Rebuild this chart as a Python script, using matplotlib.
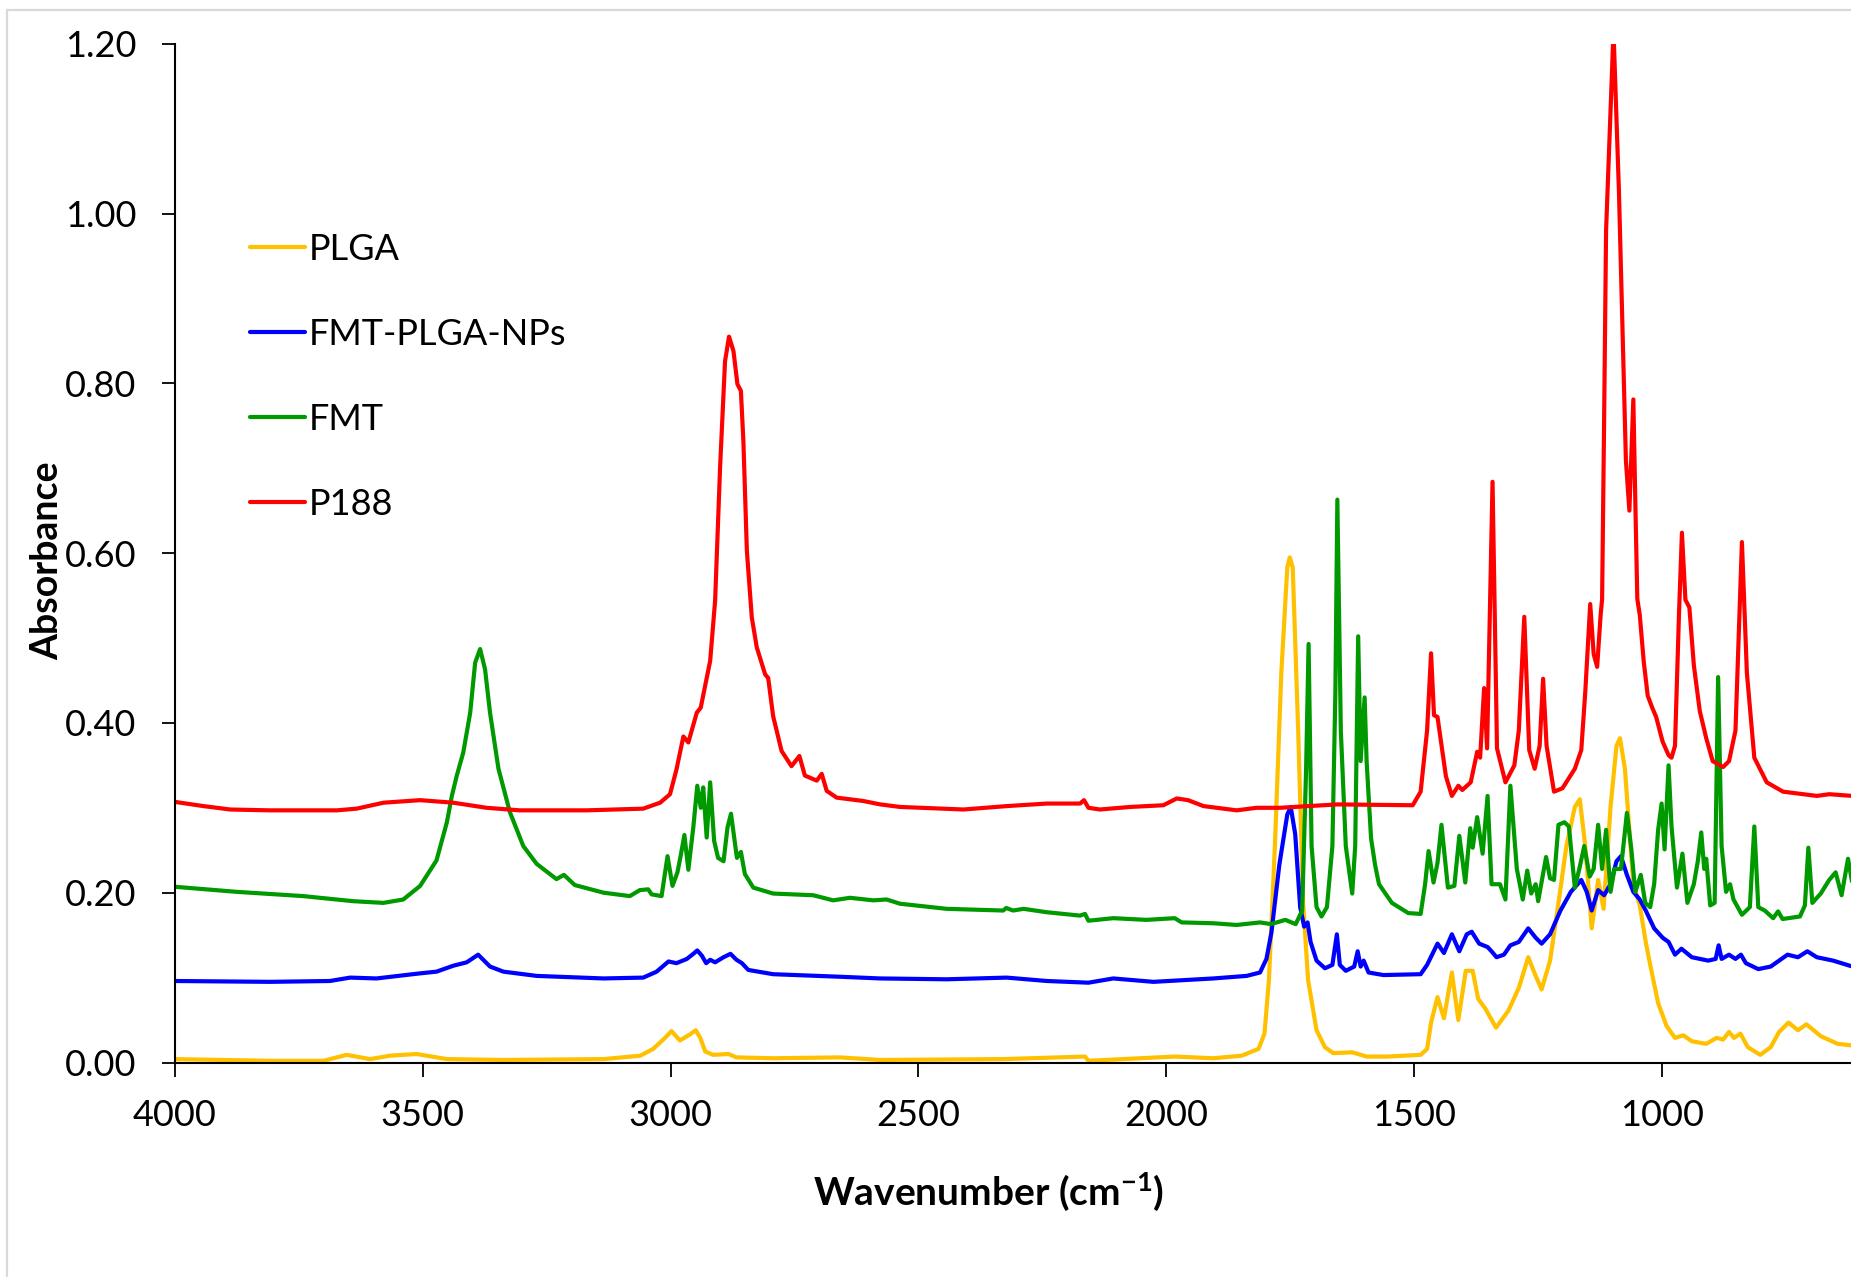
import matplotlib
matplotlib.use("Agg")
import matplotlib.pyplot as plt
from matplotlib.patches import Rectangle

plt.rcParams['font.family'] = ['Lato', 'DejaVu Sans']
plt.rcParams['mathtext.fontset'] = 'custom'
plt.rcParams['mathtext.rm'] = 'Lato:bold'
plt.rcParams['mathtext.it'] = 'Lato:bold'
plt.rcParams['mathtext.bf'] = 'Lato:bold'

# ---- FTIR spectra (wavenumber in cm-1, absorbance) ----
wn_plga = [4000, 3808, 3700, 3653, 3606, 3566, 3512, 3451, 3337, 3135, 3061, 3035, 3011, 2998,
           2981, 2961, 2949, 2940, 2930, 2914, 2883, 2867, 2793, 2658, 2577, 2329, 2164, 2157,
           1983, 1905, 1848, 1814, 1802, 1793, 1781, 1768, 1756, 1751, 1745, 1734, 1724, 1714,
           1697, 1680, 1663, 1625, 1596, 1554, 1487, 1474, 1466, 1453, 1440, 1424, 1411, 1396,
           1382, 1371, 1356, 1335, 1310, 1289, 1270, 1255, 1243, 1226, 1209, 1193, 1176, 1166,
           1155, 1142, 1129, 1118, 1104, 1092, 1085, 1075, 1058, 1045, 1033, 1024, 1008, 991,
           974, 957, 940, 911, 890, 877, 865, 855, 842, 827, 802, 781, 764, 745, 726, 709, 680,
           646, 616]
abs_plga = [0.004, 0.002, 0.002, 0.009, 0.004, 0.008, 0.010, 0.004, 0.003, 0.004, 0.008, 0.016,
            0.029, 0.037, 0.026, 0.033, 0.038, 0.029, 0.013, 0.009, 0.010, 0.006, 0.005, 0.006,
            0.003, 0.004, 0.007, 0.002, 0.007, 0.005, 0.008, 0.016, 0.034, 0.097, 0.255, 0.459,
            0.583, 0.595, 0.583, 0.391, 0.188, 0.097, 0.038, 0.018, 0.011, 0.012, 0.007, 0.007,
            0.009, 0.016, 0.047, 0.077, 0.052, 0.106, 0.050, 0.108, 0.108, 0.075, 0.063, 0.041,
            0.061, 0.088, 0.124, 0.102, 0.086, 0.120, 0.188, 0.255, 0.301, 0.310, 0.255, 0.158,
            0.215, 0.181, 0.301, 0.373, 0.382, 0.346, 0.210, 0.185, 0.142, 0.115, 0.070, 0.043,
            0.029, 0.032, 0.025, 0.022, 0.029, 0.027, 0.036, 0.029, 0.034, 0.018, 0.009, 0.018,
            0.036, 0.047, 0.038, 0.045, 0.031, 0.022, 0.020]

wn_nps = [4000, 3808, 3687, 3646, 3593, 3505, 3472, 3438, 3411, 3388, 3364, 3337, 3270, 3135,
          3055, 3028, 3004, 2988, 2967, 2954, 2946, 2937, 2928, 2920, 2910, 2893, 2879, 2867,
          2856, 2843, 2793, 2658, 2577, 2443, 2322, 2241, 2157, 2107, 2026, 1905, 1838, 1811,
          1798, 1788, 1772, 1756, 1749, 1740, 1730, 1722, 1715, 1709, 1697, 1680, 1665, 1656,
          1650, 1638, 1621, 1614, 1608, 1602, 1592, 1562, 1487, 1474, 1453, 1440, 1424, 1409,
          1394, 1384, 1369, 1352, 1344, 1334, 1319, 1306, 1289, 1270, 1255, 1243, 1226, 1205,
          1184, 1163, 1152, 1142, 1129, 1117, 1104, 1092, 1083, 1071, 1058, 1045, 1033, 1016,
          999, 987, 974, 961, 940, 907, 892, 886, 880, 865, 852, 841, 831, 806, 781, 747, 726,
          707, 688, 655, 616]
abs_nps = [0.096, 0.095, 0.096, 0.100, 0.099, 0.105, 0.107, 0.114, 0.118, 0.127, 0.113, 0.107,
           0.102, 0.099, 0.100, 0.107, 0.119, 0.117, 0.122, 0.128, 0.132, 0.126, 0.117, 0.121,
           0.118, 0.124, 0.128, 0.121, 0.117, 0.109, 0.104, 0.101, 0.099, 0.098, 0.100, 0.096,
           0.094, 0.099, 0.095, 0.099, 0.102, 0.106, 0.122, 0.153, 0.233, 0.292, 0.301, 0.269,
           0.183, 0.160, 0.165, 0.142, 0.120, 0.111, 0.115, 0.151, 0.115, 0.108, 0.113, 0.131,
           0.113, 0.120, 0.106, 0.103, 0.104, 0.115, 0.140, 0.129, 0.151, 0.131, 0.151, 0.154,
           0.140, 0.136, 0.131, 0.124, 0.127, 0.138, 0.142, 0.158, 0.147, 0.140, 0.151, 0.179,
           0.201, 0.215, 0.201, 0.179, 0.203, 0.197, 0.210, 0.237, 0.243, 0.221, 0.201, 0.192,
           0.179, 0.158, 0.147, 0.142, 0.127, 0.134, 0.124, 0.120, 0.122, 0.138, 0.122, 0.127,
           0.122, 0.127, 0.117, 0.110, 0.113, 0.127, 0.124, 0.131, 0.124, 0.120, 0.113]

wn_fmt = [4000, 3875, 3741, 3640, 3579, 3539, 3505, 3472, 3451, 3441, 3431, 3418, 3404, 3394,
          3384, 3374, 3364, 3347, 3324, 3297, 3270, 3230, 3215, 3193, 3135, 3082, 3062, 3045,
          3038, 3018, 3006, 2996, 2986, 2979, 2972, 2964, 2954, 2946, 2939, 2934, 2927, 2920,
          2912, 2904, 2893, 2885, 2878, 2866, 2858, 2850, 2833, 2793, 2752, 2712, 2672, 2638,
          2591, 2564, 2537, 2443, 2329, 2323, 2309, 2288, 2241, 2174, 2164, 2157, 2107, 2040,
          1983, 1969, 1905, 1858, 1811, 1789, 1760, 1739, 1726, 1718, 1713, 1707, 1697, 1687,
          1676, 1665, 1659, 1655, 1648, 1638, 1625, 1619, 1613, 1608, 1600, 1596, 1587, 1579,
          1571, 1545, 1512, 1487, 1478, 1471, 1461, 1453, 1445, 1432, 1419, 1409, 1397, 1387,
          1382, 1373, 1362, 1352, 1344, 1327, 1316, 1306, 1293, 1281, 1272, 1264, 1255, 1250,
          1234, 1226, 1218, 1209, 1197, 1188, 1176, 1167, 1157, 1146, 1138, 1129, 1121, 1113,
          1104, 1096, 1083, 1071, 1062, 1054, 1043, 1034, 1024, 1016, 1008, 1001, 995, 987,
          981, 970, 959, 949, 936, 928, 921, 915, 911, 903, 894, 887, 880, 871, 863, 856, 839,
          823, 814, 806, 793, 776, 766, 757, 722, 712, 705, 697, 680, 663, 650, 638, 625, 616]
abs_fmt = [0.207, 0.201, 0.196, 0.190, 0.188, 0.192, 0.208, 0.238, 0.283, 0.314, 0.338, 0.365,
           0.412, 0.471, 0.487, 0.463, 0.412, 0.346, 0.295, 0.255, 0.234, 0.216, 0.221, 0.209,
           0.200, 0.196, 0.203, 0.204, 0.198, 0.196, 0.243, 0.208, 0.224, 0.245, 0.268, 0.227,
           0.277, 0.326, 0.300, 0.324, 0.265, 0.330, 0.261, 0.241, 0.237, 0.277, 0.293, 0.241,
           0.248, 0.222, 0.206, 0.199, 0.198, 0.197, 0.191, 0.194, 0.191, 0.192, 0.187, 0.181,
           0.179, 0.182, 0.179, 0.181, 0.177, 0.173, 0.175, 0.167, 0.170, 0.168, 0.170, 0.165,
           0.164, 0.162, 0.165, 0.163, 0.168, 0.163, 0.179, 0.346, 0.493, 0.255, 0.183, 0.172,
           0.183, 0.255, 0.436, 0.663, 0.391, 0.255, 0.199, 0.255, 0.502, 0.355, 0.430, 0.355,
           0.264, 0.233, 0.210, 0.188, 0.176, 0.175, 0.210, 0.249, 0.212, 0.235, 0.280, 0.206,
           0.208, 0.267, 0.212, 0.276, 0.253, 0.289, 0.246, 0.314, 0.210, 0.210, 0.192, 0.326,
           0.228, 0.192, 0.226, 0.199, 0.210, 0.190, 0.242, 0.217, 0.215, 0.280, 0.283, 0.278,
           0.206, 0.228, 0.255, 0.219, 0.228, 0.280, 0.228, 0.274, 0.201, 0.228, 0.228, 0.294,
           0.251, 0.201, 0.221, 0.188, 0.183, 0.210, 0.274, 0.305, 0.251, 0.350, 0.278, 0.206,
           0.246, 0.188, 0.210, 0.237, 0.271, 0.228, 0.240, 0.185, 0.188, 0.454, 0.255, 0.201,
           0.210, 0.192, 0.174, 0.183, 0.278, 0.183, 0.179, 0.170, 0.178, 0.169, 0.172, 0.185,
           0.253, 0.188, 0.199, 0.215, 0.224, 0.197, 0.240, 0.210]

wn_p188 = [4000, 3942, 3888, 3808, 3673, 3633, 3579, 3505, 3438, 3371, 3304, 3169, 3055, 3021,
           3001, 2988, 2974, 2964, 2947, 2939, 2920, 2910, 2900, 2890, 2882, 2873, 2865, 2858,
           2853, 2846, 2836, 2826, 2809, 2803, 2793, 2776, 2756, 2740, 2729, 2705, 2695, 2685,
           2665, 2611, 2577, 2537, 2409, 2322, 2241, 2174, 2166, 2157, 2134, 2073, 2006, 1979,
           1956, 1925, 1858, 1818, 1771, 1655, 1503, 1487, 1474, 1466, 1460, 1453, 1436, 1424,
           1411, 1403, 1386, 1373, 1367, 1359, 1353, 1342, 1333, 1316, 1298, 1289, 1278, 1268,
           1257, 1247, 1240, 1233, 1218, 1201, 1176, 1163, 1155, 1145, 1138, 1131, 1124, 1121,
           1117, 1113, 1098, 1087, 1079, 1073, 1066, 1058, 1054, 1050, 1045, 1037, 1029, 1020,
           1012, 999, 987, 981, 974, 966, 960, 953, 945, 936, 924, 911, 898, 877, 865, 852,
           839, 829, 814, 789, 756, 688, 663, 616]
abs_p188 = [0.307, 0.302, 0.298, 0.297, 0.297, 0.299, 0.306, 0.309, 0.306, 0.300, 0.297, 0.297,
            0.299, 0.306, 0.316, 0.345, 0.384, 0.377, 0.412, 0.418, 0.473, 0.544, 0.701, 0.826,
            0.855, 0.838, 0.799, 0.791, 0.732, 0.603, 0.524, 0.489, 0.457, 0.453, 0.408, 0.367,
            0.349, 0.361, 0.338, 0.332, 0.340, 0.320, 0.312, 0.308, 0.304, 0.301, 0.298, 0.302,
            0.305, 0.305, 0.309, 0.300, 0.298, 0.301, 0.303, 0.311, 0.309, 0.302, 0.297, 0.300,
            0.300, 0.304, 0.303, 0.319, 0.391, 0.482, 0.409, 0.407, 0.337, 0.314, 0.326, 0.321,
            0.330, 0.366, 0.359, 0.441, 0.370, 0.684, 0.370, 0.330, 0.350, 0.391, 0.525, 0.368,
            0.346, 0.373, 0.452, 0.373, 0.319, 0.323, 0.346, 0.368, 0.436, 0.540, 0.481, 0.466,
            0.527, 0.546, 0.754, 0.980, 1.215, 1.025, 0.844, 0.709, 0.650, 0.781, 0.660, 0.546,
            0.527, 0.472, 0.432, 0.418, 0.407, 0.378, 0.362, 0.359, 0.373, 0.527, 0.624, 0.545,
            0.536, 0.468, 0.414, 0.382, 0.355, 0.348, 0.355, 0.391, 0.613, 0.459, 0.359, 0.330,
            0.319, 0.314, 0.316, 0.314]

series_names = ['PLGA', 'FMT-PLGA-NPs', 'FMT', 'P188']
series_colors = ['#FFC000', '#0000FF', '#009900', '#FF0000']

y_ticks = [0.0, 0.2, 0.4, 0.6, 0.8, 1.0, 1.2]
x_ticks = [4000, 3500, 3000, 2500, 2000, 1500, 1000]

W, H = 1851, 1277
fig = plt.figure(figsize=(W / 100, H / 100), dpi=100)

# light chart-area border
fig.patches.append(Rectangle((7 / W, -0.05), 1.2, 1 - 10.5 / H + 0.05,
                             transform=fig.transFigure, fill=False,
                             edgecolor='#D9D9D9', linewidth=1.6, zorder=0))

ax = fig.add_axes([174.7 / W, 1 - 1062.5 / H, 1 - 174.7 / W, (1062.5 - 43.7) / H])

data = [(wn_plga, abs_plga), (wn_nps, abs_nps), (wn_fmt, abs_fmt), (wn_p188, abs_p188)]
for (wn, ab), name, col in zip(data, series_names, series_colors):
    ax.plot(wn, ab, color=col, lw=3.0, label=name,
            solid_joinstyle='round', solid_capstyle='round')

ax.set_xlim(4000, 619)
ax.set_ylim(0, 1.2)
ax.set_xticks(x_ticks)
ax.set_xticklabels([str(t) for t in x_ticks])
ax.set_yticks(y_ticks)
ax.set_yticklabels([f'{t:.2f}' for t in y_ticks])

for s in ['top', 'right']:
    ax.spines[s].set_visible(False)
for s in ['left', 'bottom']:
    ax.spines[s].set_linewidth(1.5)
    ax.spines[s].set_color('black')

ax.tick_params(axis='y', direction='out', length=9.5, width=1.3, pad=18, labelsize=26)
ax.tick_params(axis='x', direction='out', length=10, width=1.3, pad=16, labelsize=26)

fig.text(47 / W, 1 - 561 / H, 'Absorbance', rotation=90, ha='center', va='center',
         fontsize=27, fontweight='bold')
fig.text(989 / W, 1 - 1192 / H, r'Wavenumber (cm$^{-1}$)', ha='center', va='center',
         fontsize=28, fontweight='bold')

fig.legend(loc='upper left', bbox_to_anchor=(250 / W, 1 - 233 / H), frameon=False,
           fontsize=26, handlelength=1.52, handletextpad=0.12, labelspacing=1.44,
           borderpad=0, borderaxespad=0)

fig.savefig('out.png', dpi=100)
